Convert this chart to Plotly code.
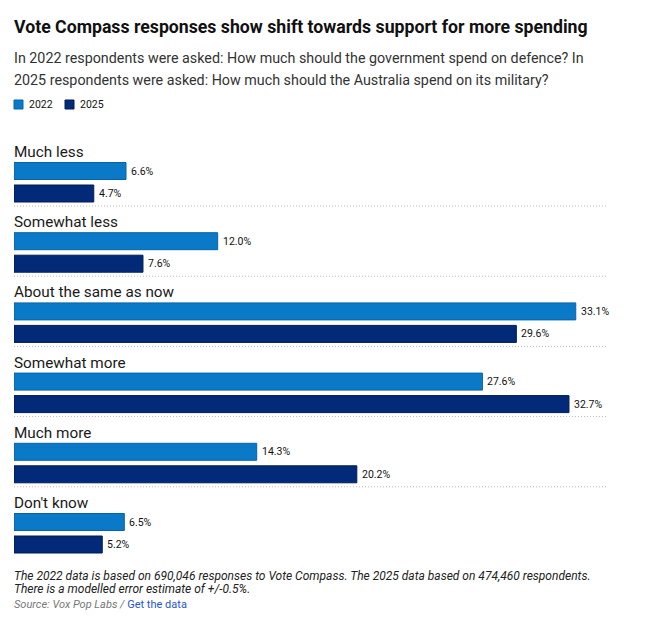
import plotly.graph_objects as go

categories = ["Much less", "Somewhat less", "About the same as now", "Somewhat more", "Much more", "Don't know"]
values_2022 = [6.6, 12.0, 33.1, 27.6, 14.3, 6.5]
values_2025 = [4.7, 7.6, 29.6, 32.7, 20.2, 5.2]
series_names = ["2022", "2025"]

W, H = 659, 622
ML, MR, MT, MB = 14, 51, 140, 62
PLOT_H = H - MT - MB
PITCH = 70.2
LABEL_OFF, BAR1_OFF, BAR2_OFF, SEP_OFF = 12, 31, 53.5, 66
BAR_W = 17
XMAX = 35
SHIFT = -1

C2022, C2022_LINE = "#0a7ac8", "#0763a6"
C2025, C2025_LINE = "#032a78", "#011c55"
FONT = "Roboto"

def py(px):
    return (H - MB - px) / PLOT_H

def text_ann(x, y, text, size, color, xref="paper", yref="paper", xshift=SHIFT):
    return dict(x=x, xref=xref, y=y, yref=yref, text=text, showarrow=False,
                xanchor="left", yanchor="middle", xshift=xshift, borderpad=0,
                font=dict(family=FONT, size=size, color=color))

n = len(categories)
y1 = [i * PITCH + BAR1_OFF for i in range(n)]
y2 = [i * PITCH + BAR2_OFF for i in range(n)]

fig = go.Figure()
anns = []
for name, vals, ys, col, lcol in [
    (series_names[0], values_2022, y1, C2022, C2022_LINE),
    (series_names[1], values_2025, y2, C2025, C2025_LINE),
]:
    fig.add_trace(go.Bar(
        x=vals, y=ys, orientation="h", name=name, width=BAR_W,
        marker=dict(color=col, line=dict(color=lcol, width=1)),
        hoverinfo="skip", showlegend=False,
    ))
    for v, yy in zip(vals, ys):
        anns.append(text_ann(v, yy, f"{v:.1f}%", 10.5, "#111", xref="x", yref="y", xshift=4))

shapes = []
for i, cat in enumerate(categories):
    anns.append(text_ann(0, i * PITCH + LABEL_OFF, cat, 15.3, "#1a1a1a", xref="x", yref="y"))
    if i < n - 1:
        ys = i * PITCH + SEP_OFF
        shapes.append(dict(type="line", xref="x", yref="y", x0=0, x1=XMAX, y0=ys, y1=ys,
                           line=dict(color="#bdbdbd", width=1, dash="1px,2px")))

# Title & subtitle
anns.append(text_ann(0, py(27), "<b>Vote Compass responses show shift towards support for more spending</b>", 17.7, "#111"))
anns.append(text_ann(0, py(58), "In 2022 respondents were asked: How much should the government spend on defence? In", 14.3, "#333"))
anns.append(text_ann(0, py(80), "2025 respondents were asked: How much should the Australia spend on its military?", 14.3, "#333"))

# Legend
leg_x = [14, 65]
PW = W - ML - MR
for name, col, lcol, lx in [(series_names[0], C2022, C2022_LINE, leg_x[0]), (series_names[1], C2025, C2025_LINE, leg_x[1])]:
    shapes.append(dict(type="rect", xref="paper", yref="paper",
                       x0=(lx - ML) / PW, x1=(lx + 9 - ML) / PW, y0=py(109), y1=py(100),
                       fillcolor=col, line=dict(color=lcol, width=1)))
    anns.append(text_ann((lx + 15 - ML) / PW, py(104.5), name, 10.5, "#111"))

# Footnotes
anns.append(text_ann(0, py(576), "<i>The 2022 data is based on 690,046 responses to Vote Compass. The 2025 data based on 474,460 respondents.</i>", 12, "#222"))
anns.append(text_ann(0, py(589), "<i>There is a modelled error estimate of +/-0.5%.</i>", 12, "#222"))
anns.append(text_ann(0, py(604), "<i>Source: Vox Pop Labs / </i><span style='color:#1f55d6'>Get the data</span>", 11, "#777"))

fig.update_layout(
    width=W, height=H, margin=dict(l=ML, r=MR, t=MT, b=MB),
    paper_bgcolor="white", plot_bgcolor="white",
    xaxis=dict(range=[0, XMAX], visible=False, fixedrange=True),
    yaxis=dict(range=[PLOT_H, 0], visible=False, fixedrange=True),
    barmode="overlay", showlegend=False,
    annotations=anns, shapes=shapes,
)

fig.write_html("out.html")
